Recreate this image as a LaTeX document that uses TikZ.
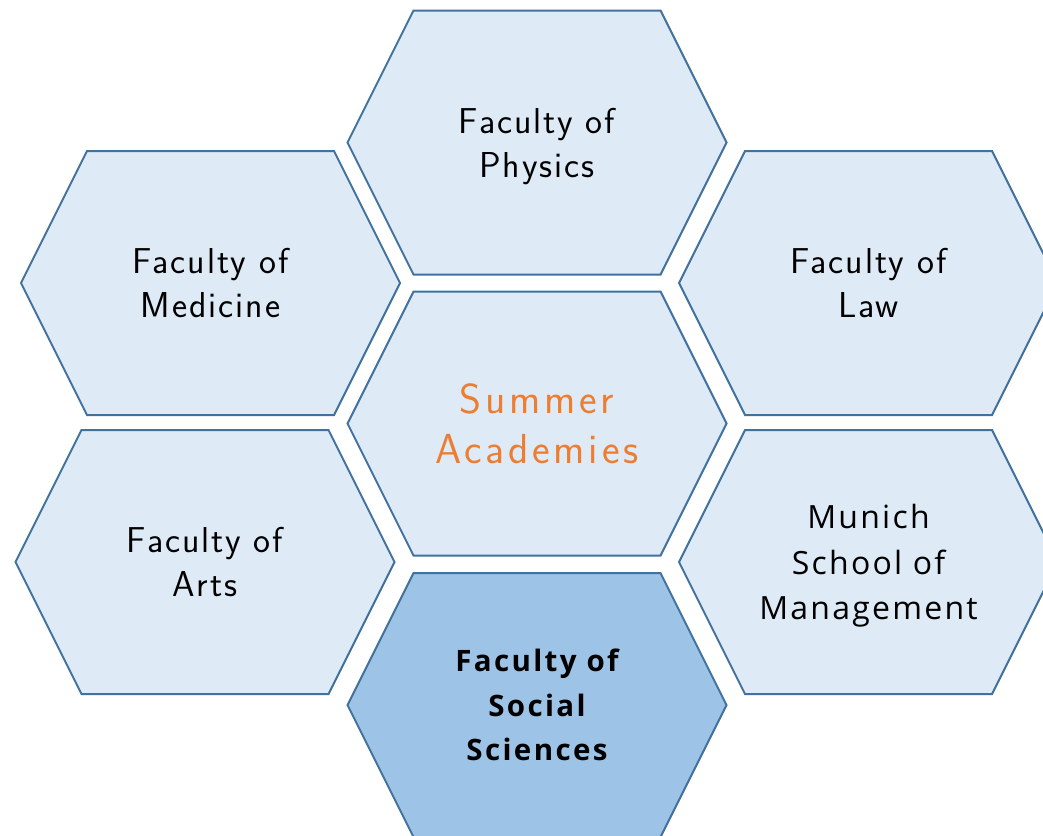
\documentclass[tikz,border=0pt]{standalone}
\usepackage{fontspec}
\setsansfont{Latin Modern Sans}[LetterSpace=5.5]
\newfontfamily\titlefont{Latin Modern Sans}[LetterSpace=9]
\newfontfamily\mgmtfont{Open Sans}[LetterSpace=7]
\newfontfamily\focusfont{Open Sans}[LetterSpace=8]
\usetikzlibrary{backgrounds, positioning}

\definecolor{cellfill}{HTML}{DEEBF7}
\definecolor{cellline}{HTML}{41719C}
\definecolor{focusfill}{HTML}{9DC3E6}
\definecolor{accent}{HTML}{ED7D31}

% last line without descender depth, so the label sits in the middle
\newcommand{\nodepth}[1]{\raisebox{0pt}[\height][0pt]{#1}}

\begin{document}
\begin{tikzpicture}[
            x=1pt, y=-1pt,
            hexa/.style={
                rectangle,
                minimum width=379pt, minimum height=264pt,
                inner sep=0pt, outer sep=0pt,
                align=center,
                font=\sffamily\fontsize{36}{44}\selectfont
            },
            cellborder/.style={draw=cellline, line width=2pt, line join=miter}
        ]

        \useasboundingbox (0,0) rectangle (1043,835);

        % the middle column
        \node[hexa, text=accent, font=\titlefont\fontsize{42}{50}\selectfont]
            (summer) at (537,423.5) {Summer\\Academies};
        \node[hexa] (physics) [above=17pt of summer] {Faculty of\\\nodepth{Physics}};
        \node[hexa, font=\focusfont\bfseries\fontsize{29.5}{44.5}\selectfont]
            (social) [below=17.5pt of summer] {Faculty of\\Social\\Sciences};

        % left and right columns
        \node[hexa] (medicine) at (210.5,283) {Faculty of\\Medicine};
        \node[hexa] (arts) at (205,562) {Faculty of\\Arts};
        \node[hexa] (law) at (868.5,283) {Faculty of\\Law};
        \node[hexa, font=\mgmtfont\fontsize{32}{45.5}\selectfont]
            (munich) at (868.5,562) {Munich\\School of\\\nodepth{Management}};

        % honeycomb cells behind the labels
        \begin{scope}[on background layer]
            \clip (0,0) rectangle (1043,835);
            \foreach \cell/\tint in {summer/cellfill, physics/cellfill,
                    social/focusfill, medicine/cellfill, arts/cellfill,
                    law/cellfill, munich/cellfill}
                \path[cellborder, fill=\tint] (\cell.west)
                    -- ([xshift=66pt]\cell.north west)
                    -- ([xshift=-66pt]\cell.north east)
                    -- (\cell.east)
                    -- ([xshift=-66pt]\cell.south east)
                    -- ([xshift=66pt]\cell.south west)
                    -- cycle;
        \end{scope}

    \end{tikzpicture}
\end{document}
